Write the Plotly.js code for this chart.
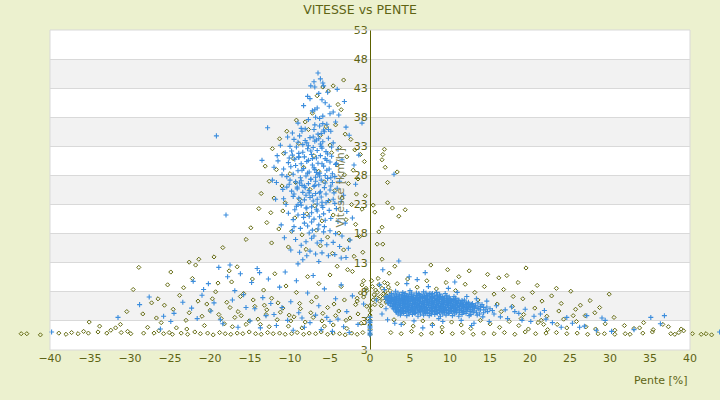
<!DOCTYPE html>
<html>
<head>
<meta charset="utf-8">
<script src="https://cdn.plot.ly/plotly-3.0.1.min.js"></script>
<style>
  html, body { margin: 0; padding: 0; background: #ecf1cf; }
  #chart { width: 720px; height: 400px; }
</style>
</head>
<body>
<div id="chart"></div>
<script>
// valeurs : pente [%] et vitesse [km/h]

// serie bleue - nuage haut (descente)
var penteBleuHaut = [
  -6.5,-6.2,-7.4,-5.8,-6.9,-4.1,-5.3,-7.8,-6.0,-3.2,
  -8.3,-5.1,-6.6,-7.2,-4.6,-3.9,-5.9,-6.8,-7.7,-4.3,
  -9.0,-5.4,-6.3,-3.0,-8.6,-7.0,-4.9,-5.7,-6.1,-2.6,
  -10.3,-9.5,-8.8,-8.1,-7.5,-6.9,-6.4,-5.9,-5.2,-4.6,
  -11.2,-10.0,-9.2,-8.4,-7.8,-7.1,-6.6,-6.0,-5.5,-4.0,
  -10.6,-9.7,-8.9,-8.2,-7.3,-6.7,-6.2,-5.6,-4.8,-3.5,
  -11.5,-10.2,-9.4,-8.6,-7.9,-7.2,-6.5,-5.8,-5.0,-4.3,
  -12.0,-10.8,-9.9,-9.0,-8.3,-7.6,-6.9,-6.3,-5.4,-4.7,
  -11.0,-10.4,-9.6,-8.7,-8.0,-7.4,-6.8,-6.1,-5.3,-3.8,
  -11.7,-10.1,-9.3,-8.5,-7.7,-7.0,-6.4,-5.7,-4.9,-4.1,
  -10.9,-9.8,-9.1,-8.4,-7.6,-6.8,-6.2,-5.5,-4.5,-3.3,
  -9.6,-8.9,-8.2,-7.5,-7.1,-6.6,-6.0,-5.2,-4.4,-3.6,
  -10.5,-9.2,-8.6,-7.9,-7.3,-6.7,-5.9,-5.1,-4.2,-2.9,
  -10.2,-9.0,-8.3,-7.6,-7.0,-6.3,-5.6,-4.9,-4.0,-3.1,
  -11.1,-9.5,-8.7,-7.8,-7.2,-6.5,-5.8,-5.0,-4.3,-3.5,
  -10.7,-9.3,-8.0,-7.3,-6.6,-6.1,-5.4,-4.6,-3.8,-2.7,
  -9.9,-8.8,-7.5,-6.8,-6.0,-5.2,-4.4,-3.6,-8.4,-6.4,
  -19.2,-12.8,-18.0,-13.5,-12.2,-2.2,-1.8,-2.5,-11.8,-3.0,
  -9.7,-9.0,-8.4,-7.7,-7.0,-6.3,-5.6,-5.0,-8.0,-6.6,
  -9.4,-8.7,-8.1,-7.4,-6.7,-6.0,-5.3,-7.7,-6.5,-5.9,
  -10.0,-9.1,-8.5,-7.2,-6.9,-6.3,-5.6,-8.9,-7.3,-6.1,
  -10.8,-9.6,-8.2,-7.6,-7.0,-6.4,-5.8,-4.9,-8.6,-7.9,
  -9.8,-9.3,-8.6,-7.9,-7.2,-6.5,-5.8,-5.1,-4.4,-10.4,
  -9.5,-8.9,-8.2,-7.4,-6.8,-6.1,-5.4,-4.7,-10.1,-8.5,
  -7.6,-6.9,-6.2,-5.5,-4.8,-9.0,-8.3,-7.1,-6.0,-5.2,
  -9.7,-8.0,-7.3,-6.6,-5.7,-4.6,-8.8,-7.8,-6.3,-5.0,
  -7.5,-6.9,-6.4,-5.6,-7.0,-8.1,-5.9,-6.7,-4.2,-11.6,
  -1.0,-1.4,-2.0,3.0,3.6
];
var vitesseBleuHaut = [
  45.6,44.6,43.4,43.4,43.2,42.8,42.3,41.6,41.0,40.7,
  40.0,39.9,39.6,39.1,38.9,38.4,38.2,38.0,37.6,37.2,
  37.0,36.8,36.5,36.3,36.1,35.9,35.6,35.5,35.2,34.9,
  34.6,34.2,34.8,34.0,34.5,33.9,34.3,33.8,34.4,33.6,
  33.2,33.0,32.9,33.3,32.6,32.8,32.3,32.7,32.1,32.5,
  31.9,31.5,31.8,31.2,31.6,31.0,31.4,30.9,31.3,30.7,
  30.5,30.2,30.8,30.0,30.4,29.8,30.1,29.6,30.3,29.9,
  29.4,29.1,29.5,28.8,29.2,28.6,29.0,28.4,28.9,28.3,
  28.1,27.8,28.2,27.6,27.9,27.4,27.7,27.2,27.5,27.0,
  26.8,26.5,26.9,26.3,26.6,26.1,26.4,25.9,26.2,25.8,
  25.6,25.3,25.7,25.1,25.4,24.9,25.2,24.8,25.0,24.6,
  24.4,24.1,23.8,24.2,23.6,23.9,23.4,23.7,23.2,23.5,
  23.0,22.7,22.9,22.4,22.6,22.2,22.5,22.0,22.3,21.8,
  21.5,21.2,20.8,21.0,20.5,20.9,20.3,20.6,20.1,19.8,
  19.5,19.2,18.9,19.3,18.6,18.8,18.3,18.5,18.0,17.6,
  17.3,17.0,16.6,17.2,16.4,16.8,16.1,16.5,15.8,15.5,
  15.2,14.8,15.0,14.5,14.7,14.2,14.4,13.8,13.5,13.2,
  34.8,36.2,21.2,30.6,27.2,20.7,26.5,16.9,23.9,13.9,
  35.3,33.7,32.0,30.6,29.3,27.9,26.7,25.5,24.6,23.1,
  22.1,23.4,25.9,27.3,28.5,30.0,31.7,33.1,35.1,36.9,
  27.2,26.0,28.9,24.5,26.3,25.0,28.0,31.2,21.6,33.0,
  24.0,20.4,19.8,18.1,17.6,19.5,21.4,27.6,16.0,14.2,
  32.2,29.7,27.1,33.6,30.9,28.2,35.8,29.1,27.8,26.0,
  24.8,31.1,26.2,32.2,27.0,24.3,30.6,26.8,31.0,35.6,
  25.0,36.7,33.4,23.3,32.9,23.0,21.3,34.6,22.8,35.9,
  18.5,22.4,20.0,21.9,19.2,23.9,26.7,28.4,37.8,38.6,
  41.2,39.3,42.1,40.5,44.1,36.0,43.9,34.1,30.1,31.4,
  37.0,31.5,29.8,28.2,13.3
];

// serie bleue - bas, pentes negatives
var penteBleuBas = [
  -39.8,-31.5,-25.8,-26.2,-24.5,-22.3,-21.0,-20.2,-19.5,-18.7,
  -17.8,-16.9,-16.2,-15.5,-14.8,-14.1,-13.4,-12.7,-12.0,-11.3,
  -10.6,-9.9,-9.2,-8.5,-7.8,-7.1,-6.4,-5.7,-5.0,-4.3,
  -3.6,-2.9,-2.2,-1.5,-0.8,-20.8,-19.9,-18.4,-17.2,-16.5,
  -15.8,-15.0,-14.4,-13.7,-13.0,-12.4,-11.7,-11.0,-10.3,-9.6,
  -8.9,-8.2,-7.5,-6.8,-6.1,-5.4,-4.7,-4.0,-3.3,-2.6,
  -23.4,-24.9,-27.6,-28.8,-22.1,-21.6,-18.9,-17.5,-13.8,-9.0,
  0,0,0,0,0,0,0,0
];
var vitesseBleuBas = [
  1.1,3.6,3.8,1.6,4.3,5.2,7.4,9.4,6.1,3.2,
  10.6,8.2,11.1,5.3,9.6,12.0,7.0,10.2,4.1,8.8,
  11.4,6.3,9.9,3.5,7.8,10.8,5.6,8.5,2.9,6.8,
  9.2,4.6,7.3,2.4,5.9,8.4,4.7,2.5,6.6,1.9,
  7.5,3.0,5.1,1.8,3.9,6.0,2.2,5.3,3.1,1.4,
  4.4,1.9,2.7,4.0,1.5,3.6,1.2,3.3,2.0,1.0,
  6.2,2.9,7.1,5.8,9.8,3.4,12.2,12.6,11.3,12.8,
  0.6,0.9,1.3,1.8,2.1,2.7,3.0,3.6
];

// serie bleue - amas dense en montee
var penteBleuAmas = [
  3.2,4.1,5.0,5.8,6.7,7.5,8.3,
  2.7,3.5,4.4,5.2,6.1,7.0,7.8,8.7,9.4,
  2.4,3.0,3.7,4.3,4.9,5.5,6.2,6.8,7.4,8.1,8.8,9.6,
  2.0,2.6,3.3,4.0,4.6,5.2,5.9,6.5,7.1,7.8,8.4,9.1,9.9,10.5,
  2.1,2.7,3.3,3.9,4.5,5.1,5.7,6.3,6.9,7.5,8.1,8.7,9.3,10.0,10.7,
  2.0,2.5,3.1,3.7,4.3,4.9,5.5,6.0,6.6,7.2,7.8,8.4,9.0,9.7,10.4,11.1,11.8,
  2.3,2.9,3.5,4.1,4.7,5.3,5.9,6.5,7.1,7.7,8.3,8.9,9.5,10.1,10.8,11.5,12.3,
  2.2,2.7,3.3,3.9,4.5,5.1,5.7,6.3,6.9,7.5,8.1,8.7,9.3,9.9,10.6,11.3,12.0,12.8,13.5,
  2.6,3.2,3.8,4.4,5.0,5.6,6.2,6.8,7.4,8.0,8.6,9.2,9.8,10.4,11.0,11.7,12.4,13.2,14.0,
  2.5,3.1,3.7,4.3,4.9,5.5,6.1,6.7,7.3,7.9,8.5,9.1,9.7,10.3,10.9,11.6,12.3,13.0,13.8,14.6,
  2.8,3.4,4.0,4.6,5.2,5.8,6.4,7.0,7.6,8.2,8.8,9.4,10.0,10.6,11.2,11.9,12.6,13.4,14.2,15.0,
  2.9,3.5,4.1,4.7,5.3,5.9,6.5,7.1,7.7,8.3,8.9,9.5,10.1,10.7,11.4,12.1,12.8,13.6,14.4,15.3,
  3.0,3.6,4.2,4.8,5.4,6.0,6.6,7.2,7.8,8.4,9.0,9.6,10.2,10.8,11.5,12.2,13.0,13.8,14.7,
  3.2,3.8,4.4,5.0,5.6,6.2,6.8,7.4,8.0,8.6,9.2,9.8,10.4,11.0,11.7,12.5,13.3,14.2,
  3.3,3.9,4.5,5.1,5.7,6.3,6.9,7.5,8.1,8.7,9.3,9.9,10.5,11.2,12.0,12.9,13.7,
  3.5,4.2,4.9,5.6,6.3,7.0,7.7,8.4,9.1,9.8,10.6,11.5,12.6,13.4,
  3.8,4.6,5.3,6.0,6.7,7.4,8.1,8.8,9.5,10.3,11.1,12.4,14.1
];
var vitesseBleuAmas = [
  8.1,7.9,8.2,7.8,8.0,7.7,7.9,
  7.7,7.8,7.7,7.8,7.7,7.8,7.7,7.6,7.7,
  7.4,7.6,7.5,7.3,7.6,7.4,7.5,7.3,7.6,7.4,7.2,7.3,
  7.2,7.3,7.2,7.3,7.2,7.2,7.3,7.2,7.3,7.2,7.3,7.2,7.1,7.2,
  7.0,6.9,7.1,6.9,7.0,7.1,6.8,7.0,6.9,7.1,6.8,7.0,6.9,6.8,6.9,
  6.7,6.8,6.7,6.8,6.7,6.8,6.7,6.7,6.8,6.7,6.8,6.7,6.7,6.6,6.7,6.6,6.6,
  6.5,6.4,6.6,6.5,6.4,6.6,6.5,6.3,6.6,6.4,6.5,6.3,6.6,6.4,6.3,6.5,6.2,
  6.2,6.3,6.2,6.3,6.2,6.3,6.2,6.3,6.2,6.3,6.2,6.3,6.2,6.2,6.2,6.1,6.2,6.0,6.1,
  6.0,5.9,6.1,6.0,5.9,6.1,6.0,5.8,6.1,5.9,6.0,5.8,6.1,5.9,6.0,5.8,5.9,5.7,5.8,
  5.7,5.8,5.7,5.8,5.7,5.8,5.7,5.8,5.7,5.8,5.7,5.8,5.7,5.6,5.7,5.6,5.6,5.5,5.5,5.4,
  5.5,5.4,5.6,5.5,5.4,5.6,5.5,5.3,5.6,5.4,5.5,5.3,5.6,5.4,5.5,5.3,5.4,5.2,5.3,5.1,
  5.2,5.3,5.2,5.3,5.2,5.3,5.2,5.3,5.2,5.3,5.2,5.3,5.2,5.2,5.1,5.2,5.0,5.1,4.9,4.8,
  5.0,4.9,5.1,5.0,4.9,5.1,5.0,4.8,5.1,4.9,5.0,4.8,5.1,4.9,4.8,5.0,4.7,4.9,4.6,
  4.7,4.8,4.7,4.8,4.7,4.8,4.7,4.8,4.7,4.8,4.7,4.8,4.7,4.7,4.6,4.6,4.5,4.4,
  4.5,4.4,4.6,4.5,4.4,4.6,4.5,4.3,4.6,4.4,4.5,4.3,4.6,4.4,4.3,4.4,4.2,
  4.2,4.3,4.2,4.3,4.2,4.3,4.2,4.3,4.2,4.3,4.2,4.1,4.1,4.0,
  4.0,3.9,4.1,3.8,4.0,3.9,4.1,3.8,4.0,3.9,3.8,3.9,3.7
];

// serie bleue - coeur de l'amas (zone pleine)
var penteBleuCoeur = [
  3.3,4.0,4.6,5.2,5.8,6.5,7.1,7.7,8.4,
  2.4,3.0,3.6,4.2,4.8,5.4,6.0,6.6,7.2,7.8,8.4,9.0,9.6,
  2.3,2.8,3.4,4.0,4.6,5.2,5.8,6.3,6.9,7.5,8.1,8.7,9.3,10.0,10.7,
  2.6,3.2,3.8,4.4,5.0,5.6,6.2,6.8,7.4,8.0,8.6,9.2,9.8,10.4,11.1,
  2.5,3.0,3.6,4.2,4.8,5.4,6.0,6.6,7.2,7.8,8.4,9.0,9.6,10.2,10.9,11.6,
  2.3,2.9,3.5,4.1,4.7,5.3,5.9,6.5,7.1,7.7,8.3,8.9,9.5,10.1,10.7,11.4,12.1,
  2.9,3.5,4.1,4.7,5.3,5.9,6.5,7.1,7.7,8.3,8.9,9.5,10.1,10.7,11.3,12.0,12.7,
  3.1,3.7,4.3,4.9,5.5,6.1,6.7,7.3,7.9,8.5,9.1,9.7,10.3,10.9,11.6,12.3,13.0,
  3.2,3.8,4.4,5.0,5.6,6.2,6.8,7.4,8.0,8.6,9.2,9.8,10.4,11.0,11.7,12.4,13.1,
  3.3,3.9,4.5,5.1,5.7,6.3,6.9,7.5,8.1,8.7,9.3,9.9,10.5,11.2,11.9,12.6,
  3.5,4.1,4.7,5.3,5.9,6.5,7.1,7.7,8.3,8.9,9.5,10.1,10.7,11.4,12.1,
  3.6,4.2,4.8,5.4,6.0,6.6,7.2,7.8,8.4,9.0,9.6,10.2,10.8,11.6
];
var vitesseBleuCoeur = [
  7.4,7.5,7.4,7.5,7.4,7.5,7.4,7.5,7.4,
  7.1,7.0,7.1,7.0,7.1,7.0,7.1,7.0,7.1,7.0,7.1,7.0,7.1,
  6.9,6.8,6.9,6.8,6.9,6.8,6.9,6.8,6.9,6.8,6.9,6.8,6.9,6.8,6.9,
  6.6,6.5,6.6,6.5,6.6,6.5,6.6,6.5,6.6,6.5,6.6,6.5,6.6,6.5,6.5,
  6.4,6.3,6.4,6.3,6.4,6.3,6.4,6.3,6.4,6.3,6.4,6.3,6.4,6.3,6.3,6.3,
  6.1,6.0,6.1,6.0,6.1,6.0,6.1,6.0,6.1,6.0,6.1,6.0,6.1,6.0,6.1,6.0,6.0,
  5.9,5.8,5.9,5.8,5.9,5.8,5.9,5.8,5.9,5.8,5.9,5.8,5.9,5.8,5.9,5.8,5.8,
  5.6,5.6,5.5,5.6,5.5,5.6,5.5,5.6,5.5,5.6,5.5,5.6,5.5,5.6,5.5,5.5,5.4,
  5.4,5.3,5.4,5.3,5.4,5.3,5.4,5.3,5.4,5.3,5.4,5.3,5.4,5.3,5.3,5.3,5.2,
  5.1,5.0,5.1,5.0,5.1,5.0,5.1,5.0,5.1,5.0,5.1,5.0,5.1,5.0,5.0,4.9,
  4.9,4.8,4.9,4.8,4.9,4.8,4.9,4.8,4.9,4.8,4.9,4.8,4.8,4.8,4.7,
  4.6,4.6,4.5,4.6,4.5,4.6,4.5,4.6,4.5,4.6,4.5,4.6,4.5,4.5
];

// serie bleue - points epars en montee
var penteBleuEpars = [
  1.2,1.8,2.0,1.5,2.2,4.6,5.9,7.3,3.1,9.8,
  10.9,12.1,13.3,14.6,15.8,16.9,17.7,18.6,19.4,20.5,
  15.5,16.3,17.2,18.1,19.0,20.1,21.3,22.0,22.8,23.9,
  24.6,25.3,26.2,27.1,28.3,29.4,30.2,33.0,35.1,36.8,
  3.9,5.5,7.8,9.1,11.4,13.0,6.6,8.6,12.7,14.9,
  43.7,36.3,21.8,26.8,29.0,4.9,6.9,10.6,0.8,1.6
];
var vitesseBleuEpars = [
  9.2,8.4,5.1,4.2,3.2,9.4,10.1,8.9,2.6,8.6,
  7.9,7.2,6.8,6.4,5.6,4.9,5.4,4.3,5.0,3.8,
  4.2,3.7,3.4,4.6,3.1,2.9,4.2,3.3,2.7,1.9,
  3.6,2.6,1.9,3.9,1.4,3.1,1.2,1.5,3.6,3.9,
  2.4,3.0,2.2,2.9,3.1,2.6,1.8,3.4,2.2,2.9,
  1.1,2.5,4.8,2.1,3.5,10.6,11.3,9.7,6.6,11.8
];

// serie olive - nuage haut
var penteOliveHaut = [
  -5.9,-4.6,-3.3,-6.6,-5.2,-4.0,-7.2,-3.6,-8.1,-5.5,
  -9.2,-10.4,-7.7,-6.2,-4.3,-3.1,-2.4,-11.3,-8.9,-5.0,
  -12.2,-10.8,-9.6,-7.0,-4.8,-3.8,-2.9,-1.9,-1.2,-0.7,
  -13.1,-11.7,-10.0,-8.3,-6.4,-4.1,-3.2,-2.1,-1.5,1.6,
  -12.6,-11.0,-9.3,-7.5,-5.7,-4.4,-2.7,-1.7,1.9,3.4,
  -13.6,-12.0,-10.6,-8.8,-6.9,-5.1,-3.5,-2.3,-1.0,2.2,
  -13.9,-12.4,-10.9,-9.4,-7.9,-6.0,-4.6,-3.0,-1.8,-0.6,
  -12.9,-11.4,-9.8,-8.5,-6.7,-5.3,-3.9,-2.6,-1.3,0.9,
  -12.3,-10.2,-8.0,-6.2,-4.7,-3.3,-2.0,-0.9,1.5,4.4,
  -18.4,-19.5,-22.6,-21.4,-14.9,-15.5,-17.3,-16.6,-4.1,-2.8,
  0.4,0.6,2.2,1.5,1.6,1.1,2.8,3.6,1.8,1.5
];
var vitesseOliveHaut = [
  43.2,43.4,44.4,41.7,42.5,40.2,38.7,39.3,37.2,36.4,
  37.5,35.6,35.9,34.9,36.7,35.1,34.2,34.3,33.5,33.2,
  32.6,31.8,30.9,31.4,31.9,32.8,31.2,32.4,31.6,30.4,
  29.6,29.0,28.3,29.4,28.7,29.8,28.1,28.9,27.4,31.6,
  27.0,26.2,26.8,25.6,26.9,25.4,26.6,24.8,29.4,28.6,
  24.9,24.1,23.3,23.9,22.8,23.6,24.1,23.0,22.2,26.8,
  22.3,21.6,21.9,20.7,21.4,20.2,21.2,20.4,19.6,24.5,
  19.9,18.8,18.4,17.8,18.6,17.4,18.1,16.9,17.5,16.2,
  16.4,15.7,15.3,15.9,14.6,15.2,14.1,14.8,13.6,22.1,
  15.6,14.0,13.1,13.6,19.0,17.0,9.7,12.3,12.4,11.8,
  22.9,21.7,23.3,19.1,16.2,18.3,22.4,21.0,32.5,30.7
];

// serie olive - bas, ligne des vitesses faibles
var penteOliveFond = [
  -43.6,-42.9,-41.2,-38.9,-38.0,-37.3,-36.5,-35.8,-35.2,-34.0,
  -32.9,-32.4,-31.8,-31.1,-30.3,-29.9,-28.3,-27.0,-26.4,-25.8,
  -25.1,-24.7,-23.6,-22.8,-21.9,-21.2,-20.3,-19.6,-18.8,-18.1,
  -17.4,-16.6,-15.9,-15.1,-14.3,-13.6,-12.8,-12.1,-11.3,-10.6,
  -9.8,-9.1,-8.3,-7.6,-6.8,-6.1,-5.3,-4.6,-3.8,-3.1,
  -2.3,-1.6,-0.9,0.0,0.0,0.0,0.0,0.0,0.0,0.0,
  2.6,3.9,5.2,6.4,7.7,9.0,10.3,11.6,12.9,14.2,
  15.5,16.8,18.1,19.4,20.7,22.0,23.3,24.6,25.9,27.2,
  28.5,29.3,30.6,31.9,32.5,34.1,35.3,37.6,38.1,38.6,
  39.2,40.3,41.4,42.0,42.7,37.3,38.9,33.7,25.4,21.7
];
var vitesseOliveFond = [
  0.8,0.8,0.6,0.9,0.7,1.0,0.8,1.2,0.9,1.1,
  0.9,1.4,1.8,1.0,1.2,0.8,0.9,0.9,1.3,0.8,
  1.0,0.7,0.9,0.7,1.1,0.8,0.9,0.6,1.0,0.8,
  0.7,0.9,0.8,1.1,0.8,0.7,1.0,0.8,0.9,0.7,
  0.8,1.0,0.7,0.9,0.8,1.1,0.7,0.9,0.8,0.6,
  0.9,0.7,1.0,0.7,1.5,2.3,3.1,4.0,4.8,5.6,
  1.0,0.8,1.2,0.7,0.9,1.1,0.8,1.0,0.7,0.9,
  0.8,1.0,0.7,1.1,0.8,0.9,1.0,0.8,0.9,0.7,
  0.8,0.8,0.7,0.8,0.7,0.9,1.1,0.8,0.7,1.0,
  1.3,0.8,0.7,0.8,0.6,2.0,1.6,1.8,3.9,2.4
];

// serie olive - bas, pentes negatives
var penteOliveBas = [
  -29.6,-28.4,-27.3,-26.1,-25.3,-24.6,-23.8,-23.0,-22.2,-21.5,
  -20.7,-20.0,-19.3,-18.6,-17.9,-17.2,-16.5,-15.8,-15.1,-14.4,
  -13.7,-13.0,-12.3,-11.6,-10.9,-10.2,-9.5,-8.8,-8.1,-7.4,
  -6.7,-6.0,-5.3,-4.6,-3.9,-3.2,-2.5,-1.8,-1.1,-0.4,
  -27.8,-26.7,-25.7,-24.2,-22.6,-21.0,-19.7,-18.2,-16.9,-15.5,
  -14.0,-12.6,-11.2,-9.9,-8.5,-7.1,-5.7,-4.3,-2.9,-1.5,
  -19.0,-17.6,-16.2,-14.7,-13.3,-11.9,-10.5,-9.2,-7.8,-6.4,
  -5.0,-3.6,-2.2,-0.8,-12.9,-11.5,-10.1,-8.7,-7.3,-5.9,
  -20.4,-18.9,-17.5,-16.1,-14.6,-13.2,-4.5,-3.0,-1.6,-0.3,
  -35.1,-31.2,-30.4,-33.8,-24.9,-23.3,-21.8,-28.9,-26.5,-22.9
];
var vitesseOliveBas = [
  8.4,4.2,6.1,2.7,9.2,5.0,7.4,3.1,10.3,6.4,
  2.2,4.8,8.0,3.4,6.2,2.0,4.6,7.7,3.0,5.5,
  2.4,4.1,6.9,3.2,5.2,2.1,3.7,6.0,2.8,4.4,
  7.1,3.0,5.3,2.3,4.7,6.6,3.5,5.8,2.6,8.2,
  1.9,3.5,5.7,1.8,4.4,3.8,6.8,2.5,3.6,2.4,
  3.3,2.0,4.5,3.0,1.8,3.6,2.1,3.9,1.7,4.2,
  9.5,11.6,7.2,10.2,8.3,11.1,9.0,7.9,10.6,9.4,
  10.9,8.9,11.5,9.9,4.9,6.1,4.0,5.1,6.3,4.3,
  5.9,4.1,5.3,3.9,6.6,5.7,5.9,3.1,6.9,3.4,
  2.8,2.4,4.6,2.1,11.4,8.7,12.6,12.2,6.8,1.6
];

// serie olive - autour de pente nulle et en montee
var penteOliveMontee = [
  0.3,0.7,1.1,1.5,1.9,2.3,0.5,0.9,1.3,1.7,
  2.1,2.5,0.4,0.8,1.2,1.6,2.0,2.4,0.6,1.4,
  1.8,0.2,1.0,2.2,-0.5,-1.2,-0.8,-1.6,-0.4,-1.0,
  3.4,4.7,5.9,7.1,8.3,9.5,10.7,11.9,13.1,14.3,
  15.5,16.7,17.9,19.1,20.3,21.5,22.7,23.9,25.1,26.3,
  27.5,28.7,29.9,18.5,20.9,23.3,25.7,28.1,30.5,16.1,
  3.0,4.2,5.4,6.6,7.8,9.0,10.2,11.4,12.6,13.8,
  15.0,16.2,17.4,18.6,19.8,21.0,22.2,23.4,24.6,25.8,
  27.0,28.2,29.4,30.6,31.8,33.0,34.2,35.4,36.6,7.6,
  2.4,3.1,12.4,14.7,17.1,19.5,9.7,11.1,13.5,15.9,
  16.4,17.8,19.2,20.6,22.1,23.6,18.9,21.4,24.2,26.9
];
var vitesseOliveMontee = [
  8.9,8.3,9.2,8.6,8.0,8.8,7.5,7.9,7.2,7.7,
  7.3,8.2,6.6,7.0,6.4,6.9,6.2,6.7,5.8,5.6,
  9.6,9.9,10.3,9.4,8.6,7.8,7.1,6.4,5.5,9.2,
  9.4,10.2,8.8,9.9,8.5,9.6,8.2,9.3,7.9,8.9,
  7.6,8.4,7.2,6.8,7.9,6.4,7.3,6.0,8.1,5.7,
  6.5,5.3,7.6,9.6,9.1,8.6,5.0,4.4,3.6,10.4,
  3.2,2.6,2.1,3.0,2.4,1.9,2.8,2.3,1.7,3.1,
  2.5,1.9,2.9,2.2,1.6,2.7,1.5,2.4,1.8,2.9,
  2.0,1.6,2.5,1.4,2.2,1.7,2.7,1.5,2.4,12.6,
  11.2,12.4,11.6,11.0,10.8,12.1,11.8,10.6,6.6,5.9,
  4.6,5.5,4.1,5.2,3.8,4.7,3.4,3.1,3.3,3.9
];

// graduations de l'axe des vitesses
var vitesseTicks = [-2, 3, 8, 13, 18, 23, 28, 33, 38, 43, 48, 53];
var vitesseLabels = ['3', '3', '8', '13', '18', '23', '28', '33', '38', '43', '48', '53'];

var W = 720, H = 400;
var plotLeft = 50, plotRight = 690;
var xMin = -40, xMax = 40;
var pxParUnite = (plotRight - plotLeft) / (xMax - xMin);
var gauche = plotLeft / W, droite = plotRight / W;

var olive = '#646b12';
var texte = '#5e6414';
var bleu = '#3b8ddd';

// les points sont sur un axe jumeau couvrant toute la largeur,
// pour que ceux qui sortent du cadre restent visibles
var traceOlive = {
  x: [].concat(penteOliveHaut, penteOliveFond, penteOliveBas, penteOliveMontee),
  y: [].concat(vitesseOliveHaut, vitesseOliveFond, vitesseOliveBas, vitesseOliveMontee),
  xaxis: 'x2', yaxis: 'y2',
  mode: 'markers',
  type: 'scatter',
  cliponaxis: false,
  marker: { symbol: 'diamond-open', size: 3.2, color: olive, line: { width: 1, color: olive } }
};

var traceBleu = {
  x: [].concat(penteBleuHaut, penteBleuBas, penteBleuAmas, penteBleuCoeur, penteBleuEpars),
  y: [].concat(vitesseBleuHaut, vitesseBleuBas, vitesseBleuAmas, vitesseBleuCoeur, vitesseBleuEpars),
  xaxis: 'x2', yaxis: 'y2',
  mode: 'markers',
  type: 'scatter',
  cliponaxis: false,
  marker: { symbol: 'cross-thin', size: 3.6, color: bleu, line: { width: 1.1, color: bleu } }
};

var shapes = [{
  type: 'rect', xref: 'paper', yref: 'paper', layer: 'below',
  x0: gauche, x1: droite, y0: 0, y1: 1,
  fillcolor: '#ffffff', line: { width: 0 }
}];
// bandes grises une sur deux
for (var i = 1; i < vitesseTicks.length - 1; i += 2) {
  shapes.push({
    type: 'rect', xref: 'paper', yref: 'y', layer: 'below',
    x0: gauche, x1: droite, y0: vitesseTicks[i], y1: vitesseTicks[i + 1],
    fillcolor: '#f2f2f2', line: { width: 0 }
  });
}
shapes.push({
  type: 'rect', xref: 'paper', yref: 'paper', layer: 'above',
  x0: gauche, x1: droite, y0: 0, y1: 1,
  line: { color: '#d9d9d9', width: 1 }
});

var layout = {
  width: W,
  height: H,
  paper_bgcolor: '#ecf1cf',
  plot_bgcolor: 'rgba(0,0,0,0)',
  font: { family: 'DejaVu Sans, sans-serif', size: 11, color: texte },
  showlegend: false,
  hovermode: false,
  margin: { l: 0, r: 0, t: 30, b: 50, pad: 0 },
  title: {
    text: 'VITESSE vs PENTE',
    font: { size: 12.5, color: texte },
    x: 0.5, xanchor: 'center',
    y: 0.975, yanchor: 'middle'
  },
  xaxis: {
    domain: [gauche, droite],
    range: [xMin, xMax],
    tick0: -40,
    dtick: 5,
    showgrid: false,
    zeroline: false,
    showline: false,
    ticks: '',
    tickfont: { size: 11, color: texte }
  },
  yaxis: {
    domain: [0, 1],
    range: [-2, 53],
    tickmode: 'array',
    tickvals: vitesseTicks,
    ticktext: vitesseLabels,
    anchor: 'free',
    position: (plotLeft - xMin * pxParUnite) / W,
    showgrid: true,
    gridcolor: '#d9d9d9',
    gridwidth: 1,
    zeroline: false,
    showline: true,
    linecolor: '#5c6100',
    linewidth: 1,
    ticks: '',
    layer: 'below traces',
    tickfont: { size: 11, color: texte }
  },
  xaxis2: {
    domain: [0, 1],
    anchor: 'y2',
    range: [xMin - plotLeft / pxParUnite, xMax + (W - plotRight) / pxParUnite],
    visible: false
  },
  yaxis2: {
    domain: [0, 1],
    anchor: 'x2',
    range: [-2, 53],
    visible: false
  },
  shapes: shapes,
  annotations: [
    {
      text: 'Vitesse [km/h]',
      xref: 'x', yref: 'y', x: -3.7, y: 26,
      textangle: -90, showarrow: false,
      font: { size: 11, color: '#7d7f52' }
    },
    {
      text: 'Pente [%]',
      xref: 'paper', yref: 'paper', x: droite, y: -0.094,
      xanchor: 'right', yanchor: 'middle', showarrow: false,
      font: { size: 11, color: texte }
    }
  ]
};

Plotly.newPlot('chart', [traceOlive, traceBleu], layout, { displayModeBar: false, staticPlot: true });
</script>
</body>
</html>
